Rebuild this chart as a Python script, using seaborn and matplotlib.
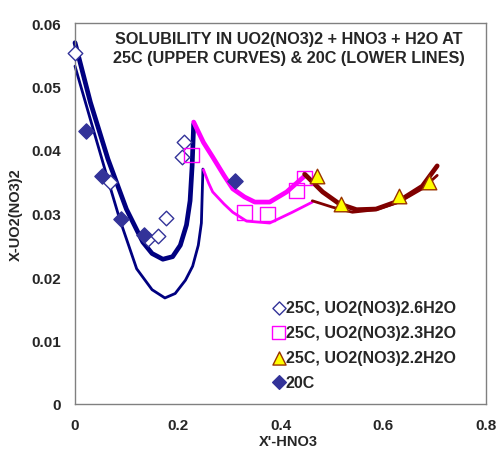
import matplotlib
matplotlib.use("Agg")
import matplotlib.pyplot as plt
import seaborn as sns

# Measured solubility points
hex26_x = [0.0, 0.068, 0.142, 0.161, 0.178, 0.209, 0.212]
hex26_y = [0.0553, 0.0350, 0.0260, 0.0264, 0.0293, 0.0389, 0.0412]

tri23_x = [0.227, 0.330, 0.375, 0.431, 0.447]
tri23_y = [0.0392, 0.0302, 0.0299, 0.0336, 0.0356]

di22_x = [0.472, 0.517, 0.631, 0.689]
di22_y = [0.0359, 0.0315, 0.0328, 0.0350]

t20_x = [0.021, 0.052, 0.089, 0.134, 0.311]
t20_y = [0.0430, 0.0359, 0.0291, 0.0266, 0.0351]

# Fitted curves: 25C (upper, heavy) and 20C (lower, light)
fit26_25_x = [0.0, 0.03, 0.064, 0.100, 0.132, 0.150, 0.171, 0.190, 0.205, 0.217, 0.224, 0.228, 0.231]
fit26_25_y = [0.0569, 0.0475, 0.0386, 0.0307, 0.0255, 0.0237, 0.0228, 0.0232, 0.0250, 0.0282, 0.0320, 0.0375, 0.0441]
fit26_20_x = [0.0, 0.03, 0.062, 0.087, 0.120, 0.150, 0.175, 0.195, 0.215, 0.229, 0.240, 0.246, 0.249]
fit26_20_y = [0.0532, 0.0448, 0.0359, 0.0291, 0.0213, 0.0180, 0.0167, 0.0174, 0.0195, 0.0217, 0.0250, 0.0285, 0.0370]

fit23_25_x = [0.231, 0.250, 0.268, 0.290, 0.307, 0.330, 0.350, 0.379, 0.412, 0.447]
fit23_25_y = [0.0444, 0.0412, 0.0389, 0.0360, 0.0339, 0.0326, 0.0318, 0.0318, 0.0334, 0.0359]
fit23_20_x = [0.250, 0.260, 0.268, 0.290, 0.307, 0.334, 0.379, 0.423, 0.462]
fit23_20_y = [0.0369, 0.0348, 0.0334, 0.0315, 0.0302, 0.0288, 0.0285, 0.0302, 0.0318]

fit22_25_x = [0.447, 0.482, 0.515, 0.548, 0.586, 0.631, 0.676, 0.705]
fit22_25_y = [0.0362, 0.0334, 0.0315, 0.0306, 0.0307, 0.0320, 0.0343, 0.0375]
fit22_20_x = [0.462, 0.501, 0.540, 0.586, 0.631, 0.676, 0.705]
fit22_20_y = [0.0320, 0.0310, 0.0302, 0.0306, 0.0318, 0.0339, 0.0360]

x_ticks = [0, 0.2, 0.4, 0.6, 0.8]
x_ticklabels = ["0", "0.2", "0.4", "0.6", "0.8"]
y_ticks = [0, 0.01, 0.02, 0.03, 0.04, 0.05, 0.06]
y_ticklabels = ["0", "0.01", "0.02", "0.03", "0.04", "0.05", "0.06"]

labels = ["25C, UO2(NO3)2.6H2O", "25C, UO2(NO3)2.3H2O",
          "25C, UO2(NO3)2.2H2O", "20C"]

sns.set_style("white")
plt.rcParams["font.family"] = ["Liberation Sans", "DejaVu Sans"]
plt.rcParams["font.weight"] = "bold"

fig = plt.figure(figsize=(4.98, 4.52), dpi=100)
ax = fig.add_axes([75 / 498, 47 / 452, 411 / 498, 381 / 452])

NAVY = "#000080"
MAGENTA = "#FF00FF"
MAROON = "#800000"
BLUE = "#333399"

curves = [
    (fit26_25_x, fit26_25_y, NAVY, 3.4),
    (fit26_20_x, fit26_20_y, NAVY, 2.0),
    (fit23_25_x, fit23_25_y, MAGENTA, 3.4),
    (fit23_20_x, fit23_20_y, MAGENTA, 2.0),
    (fit22_25_x, fit22_25_y, MAROON, 3.4),
    (fit22_20_x, fit22_20_y, MAROON, 2.0),
]
for cx, cy, col, lw in curves:
    sns.lineplot(x=cx, y=cy, sort=False, estimator=None, color=col,
                 linewidth=lw, ax=ax, solid_capstyle="round")

h1 = ax.scatter(hex26_x, hex26_y, marker="D", s=55, facecolor="white",
                edgecolor=BLUE, linewidth=1.0, zorder=3, label=labels[0],
                clip_on=False)
h2 = ax.scatter(tri23_x, tri23_y, marker="s", s=110, facecolor="none",
                edgecolor=MAGENTA, linewidth=1.0, zorder=3, label=labels[1],
                clip_on=False)
h3 = ax.scatter(di22_x, di22_y, marker="^", s=110, facecolor="#FFFF00",
                edgecolor="#993300", linewidth=1.0, zorder=4, label=labels[2],
                clip_on=False)
h4 = ax.scatter(t20_x, t20_y, marker="D", s=60, facecolor=BLUE,
                edgecolor=BLUE, linewidth=1.0, zorder=4, label=labels[3],
                clip_on=False)
for line in ax.get_lines():
    line.set_clip_on(False)

ax.set_xlim(0, 0.8)
ax.set_ylim(0, 0.06)
ax.set_xticks(x_ticks)
ax.set_xticklabels(x_ticklabels)
ax.set_yticks(y_ticks)
ax.set_yticklabels(y_ticklabels)
ax.tick_params(axis="both", direction="out", length=4, width=1, color="#808080",
               labelsize=11, pad=6)
for lab in ax.get_xticklabels() + ax.get_yticklabels():
    lab.set_fontweight("bold")
for sp in ax.spines.values():
    sp.set_color("#808080")
    sp.set_linewidth(1.0)

ax.set_xlabel("X'-HNO3", fontsize=10.5, fontweight="bold", labelpad=6)
ax.xaxis.set_label_coords(0.52, -0.08)
ax.set_ylabel("X-UO2(NO3)2", fontsize=10.5, fontweight="bold", labelpad=6)

ax.text(0.52, 0.98, "SOLUBILITY IN UO2(NO3)2 + HNO3 + H2O AT\n"
        "25C (UPPER CURVES) & 20C (LOWER LINES)",
        transform=ax.transAxes, ha="center", va="top", fontsize=11.7,
        fontweight="bold", linespacing=1.38)

leg = ax.legend(handles=[h1, h2, h3, h4], labels=labels, loc="upper left",
                bbox_to_anchor=(0.47, 0.29), frameon=False, fontsize=11.5,
                handlelength=0.5, handletextpad=0.2, labelspacing=0.62,
                borderaxespad=0, markerscale=0.9)
for t in leg.get_texts():
    t.set_fontweight("bold")

fig.savefig("out.png", dpi=100)
